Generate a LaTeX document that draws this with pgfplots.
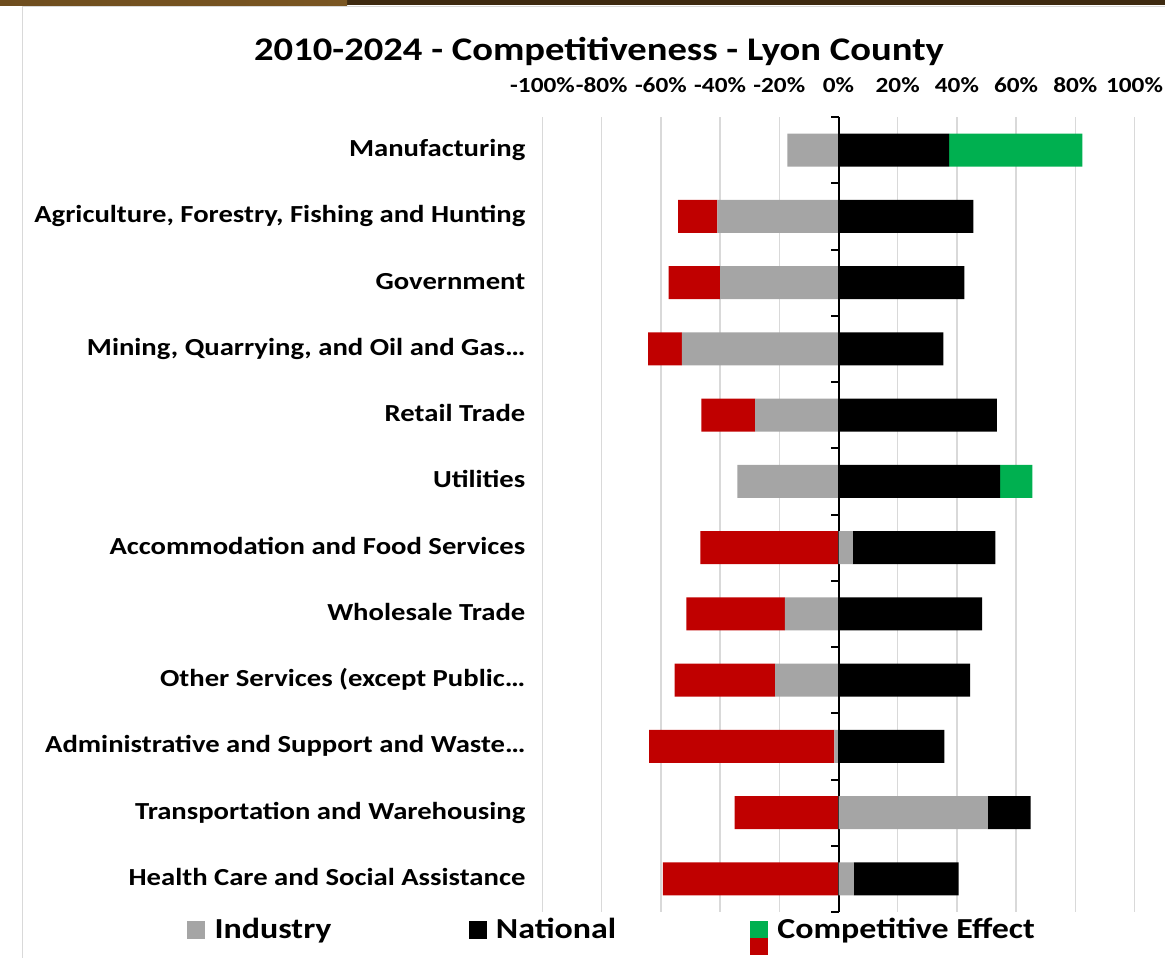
\documentclass[border=0pt]{standalone}
\usepackage{pgfplots}
\pgfplotsset{compat=1.18}
\usepackage{pgfplotstable}
\usepackage{fontspec}
\setmainfont[FakeStretch=1.17]{Carlito}
\definecolor{indgray}{HTML}{A5A5A5}
\definecolor{compgreen}{HTML}{00B050}
\definecolor{compred}{HTML}{C00000}
\definecolor{gridgray}{HTML}{D9D9D9}
\definecolor{darkbrown}{HTML}{3E2A10}
\definecolor{lightbrown}{HTML}{7A5622}

% Values in percent; rows top to bottom
\pgfplotstableread{
y  indneg indpos nat  comppos compneg
0  -17.3  0      37.4 45.0    0
1  -40.9  0      45.6 0       -13.3
2  -40.0  0      42.5 0       -17.4
3  -52.9  0      35.4 0       -11.4
4  -28.2  0      53.5 0       -18.1
5  -34.2  0      54.6 10.9    0
6  0      4.8    48.2 0       -46.7
7  -18.1  0      48.5 0       -33.3
8  -21.4  0      44.5 0       -34.0
9  -1.4   0      35.8 0       -62.6
10 0      50.4   14.5 0       -35.1
11 0      5.2    35.4 0       -59.3
}\datatable

\pgfplotsset{base/.style={
  scale only axis, width=592bp, height=795bp,
  at={(542.5bp,46bp)}, anchor=south west,
  xmin=-100, xmax=100, ymin=-0.5, ymax=11.5, y dir=reverse,
  xbar stacked, bar width=33bp,
}}

\begin{document}
\begin{tikzpicture}
\path[use as bounding box] (0,0) rectangle (1165bp,958bp);
\fill[darkbrown] (0,952.5bp) rectangle (1165bp,958bp);
\shade[left color=lightbrown!80!darkbrown, right color=lightbrown] (0,952.5bp) rectangle (347bp,958bp);
\draw[gridgray, line width=1.5bp] (22.5bp,0) -- (22.5bp,951.5bp) -- (1165bp,951.5bp);

\node[font=\fontsize{33bp}{40bp}\selectfont\bfseries] at (599bp,906bp) {2010-2024 - Competitiveness - Lyon County};

\begin{axis}[base,
  axis line style={draw=none},
  tick style={draw=none},
  xmajorgrids=true,
  major grid style={gridgray, line width=1.5bp},
  xtick={-100,-80,...,100},
  xticklabels={-100\%,-80\%,-60\%,-40\%,-20\%,0\%,20\%,40\%,60\%,80\%,100\%},
  xticklabel pos=upper,
  xticklabel style={font=\fontsize{21.6bp}{26bp}\selectfont\bfseries, anchor=base, inner sep=0pt, yshift=25bp},
  ytick={0,...,11},
  yticklabels={Manufacturing,
    {Agriculture, Forestry, Fishing and Hunting},
    Government,
    {Mining, Quarrying, and Oil and Gas…},
    Retail Trade,
    Utilities,
    Accommodation and Food Services,
    Wholesale Trade,
    {Other Services (except Public…},
    {Administrative and Support and Waste…},
    Transportation and Warehousing,
    Health Care and Social Assistance},
  yticklabel style={font=\fontsize{24.5bp}{29bp}\selectfont\bfseries, anchor=east, inner sep=0pt, xshift=-17bp, yshift=-4bp, text height=0.7em, text depth=0.2em},
  legend columns=3,
  legend style={draw=none, fill=none, inner sep=0pt, column sep=10bp,
    nodes={inner sep=0pt, font=\fontsize{29bp}{34bp}\selectfont\bfseries},
    at={(-0.6005,-0.008)}, anchor=north west},
]
\addlegendimage{legend image code/.code={\fill[indgray] (0bp,-9bp) rectangle (17bp,8bp);}}
\addlegendimage{legend image code/.code={\fill[black] (0bp,-9bp) rectangle (17bp,8bp);}}
\addlegendimage{legend image code/.code={\fill[compgreen] (0bp,-9bp) rectangle (17bp,8bp);\fill[compred] (0bp,-25bp) rectangle (17bp,-9bp);}}
\legend{\makebox[244bp][l]{Industry},\makebox[244bp][l]{National},Competitive Effect}
\addplot[fill=indgray, draw=none, forget plot] table[x=indneg, y=y] {\datatable};
\addplot[fill=compred, draw=none, forget plot] table[x=compneg, y=y] {\datatable};
\end{axis}

\begin{axis}[base, hide axis]
\addplot[fill=indgray, draw=none] table[x=indpos, y=y] {\datatable};
\addplot[fill=black, draw=none] table[x=nat, y=y] {\datatable};
\addplot[fill=compgreen, draw=none] table[x=comppos, y=y] {\datatable};
\draw[black, line width=2bp] (axis cs:0,-0.5) -- (axis cs:0,11.5);
\pgfplotsinvokeforeach{-0.5,0.5,1.5,2.5,3.5,4.5,5.5,6.5,7.5,8.5,9.5,10.5,11.5}{
  \draw[black, line width=2bp] (axis cs:0,#1) -- ++(-8bp,0pt);
}
\end{axis}
\end{tikzpicture}
\end{document}
